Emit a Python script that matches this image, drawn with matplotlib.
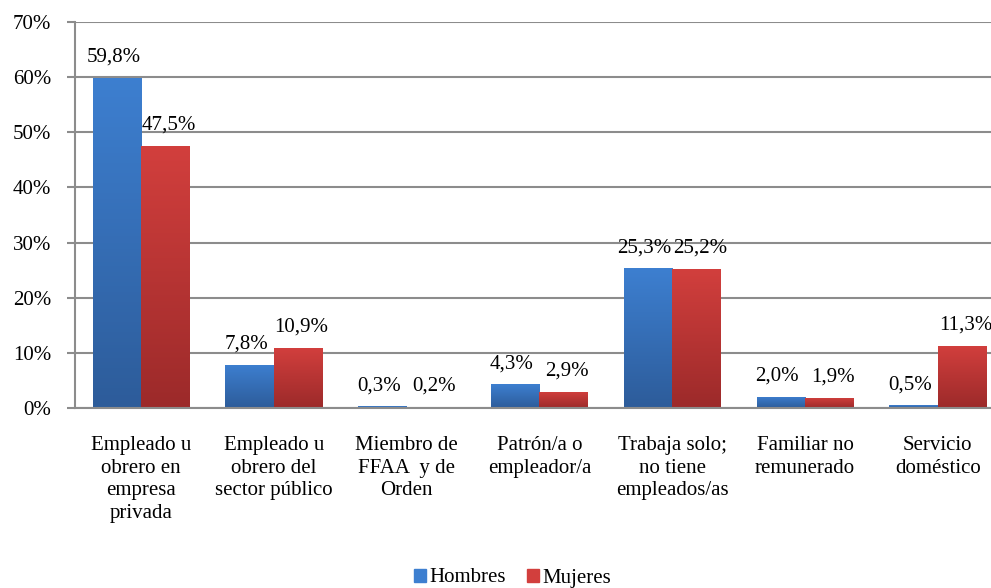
import numpy as np
import matplotlib
matplotlib.use('Agg')
import matplotlib.pyplot as plt
import matplotlib.patches as mpatches
from matplotlib.colors import LinearSegmentedColormap

# data
categorias = ['Empleado u\nobrero en\nempresa\nprivada',
              'Empleado u\nobrero del\nsector público',
              'Miembro de\nFFAA  y de\nOrden',
              'Patrón/a o\nempleador/a',
              'Trabaja solo;\nno tiene\nempleados/as',
              'Familiar no\nremunerado',
              'Servicio\ndoméstico']
hombres = [59.8, 7.8, 0.3, 4.3, 25.3, 2.0, 0.5]
mujeres = [47.5, 10.9, 0.2, 2.9, 25.2, 1.9, 11.3]
series = ['Hombres', 'Mujeres']

plt.rcParams['font.family'] = ['Liberation Serif', 'DejaVu Serif']

azul_top, azul_bot = '#3d7fd0', '#2d5c9a'
rojo_top, rojo_bot = '#d23f3d', '#9c2a2a'

fig = plt.figure(figsize=(9.91, 5.88), dpi=100)
# the plot area runs a little past the right edge, as in the original
ax = fig.add_axes([0.0753, 0.306, 0.938, 0.657])

x = np.arange(len(categorias))
w = 0.365

def grad_bars(xs, vals, top, bot):
    cmap = LinearSegmentedColormap.from_list('g', [bot, top])
    grad = np.linspace(0, 1, 100).reshape(-1, 1)
    bars = ax.bar(xs, vals, width=w, color=top, zorder=2)
    for b in bars:
        b.set_facecolor('none')
        b.set_edgecolor('none')
        x0, y0 = b.get_x(), b.get_y()
        im = ax.imshow(grad, cmap=cmap, aspect='auto', origin='lower',
                       extent=(x0, x0 + b.get_width(), y0, y0 + b.get_height()),
                       zorder=2)
        im.set_clip_path(b)
    return bars

b1 = grad_bars(x - w / 2, hombres, azul_top, azul_bot)
b2 = grad_bars(x + w / 2, mujeres, rojo_top, rojo_bot)

# labels pushed slightly apart, like Excel does
for bars, vals, dx in ((b1, hombres, -2.5), (b2, mujeres, 2.5)):
    for b, v in zip(bars, vals):
        ax.annotate(('%.1f%%' % v).replace('.', ','),
                    (b.get_x() + b.get_width() / 2, v),
                    xytext=(dx, 8), textcoords='offset points',
                    ha='center', va='bottom', fontsize=15)

ax.set_xlim(-0.5, len(categorias) - 0.5)
ax.set_ylim(0, 70)
ax.set_yticks(np.arange(0, 71, 10))
ax.set_yticklabels(['%d%%' % t for t in range(0, 71, 10)], fontsize=15)
ax.set_xticks(x)
ax.set_xticklabels(categorias, fontsize=15, linespacing=1.27, va='top')
ax.tick_params(axis='x', length=0, pad=20)
ax.tick_params(axis='y', length=6, color='#8c8c8c', width=1.5, pad=11)

ax.yaxis.grid(True, color='#8c8c8c', linewidth=1.5, zorder=0)
ax.set_axisbelow(True)
for s in ('top', 'right'):
    ax.spines[s].set_visible(False)
for s in ('left', 'bottom'):
    ax.spines[s].set_color('#8c8c8c')
    ax.spines[s].set_linewidth(1.5)

handles = [mpatches.Patch(color=azul_top, label=series[0]),
           mpatches.Patch(color=rojo_top, label=series[1])]
fig.legend(handles=handles, loc='center', bbox_to_anchor=(0.517, 1 - 578 / 588),
           ncol=2, frameon=False, fontsize=15, handlelength=0.6,
           handleheight=0.6, handletextpad=0.15, columnspacing=1.0)

fig.savefig('out.png', dpi=100)
